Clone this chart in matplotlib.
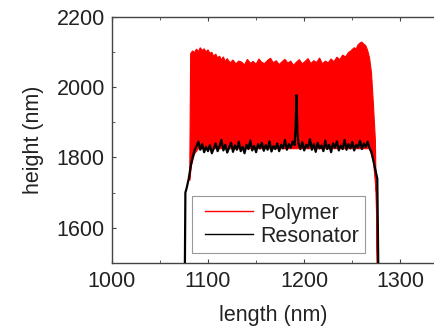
import matplotlib
matplotlib.use("Agg")
import matplotlib.pyplot as plt
from matplotlib.lines import Line2D
from matplotlib.legend_handler import HandlerLine2D
from matplotlib.ticker import MultipleLocator

plt.rcParams['font.family'] = ['Liberation Sans', 'DejaVu Sans']

# Resonator profile (length nm, height nm)
res_x = [1076, 1076.5, 1078, 1080, 1082, 1084, 1086,
         1088, 1090, 1092, 1094, 1096, 1098, 1100, 1102, 1104, 1106, 1108, 1110,
         1112, 1114, 1116, 1118, 1120, 1122, 1124, 1126, 1128, 1130, 1132, 1134,
         1136, 1138, 1140, 1142, 1144, 1146, 1148, 1150, 1152, 1154, 1156, 1158,
         1160, 1162, 1164, 1166, 1168, 1170, 1172, 1174, 1176, 1178, 1180, 1182,
         1184, 1186, 1188, 1190, 1191, 1192, 1193, 1194, 1196, 1198, 1200, 1202,
         1204, 1206, 1208, 1210, 1212, 1214, 1216, 1218, 1220, 1222, 1224, 1226,
         1228, 1230, 1232, 1234, 1236, 1238, 1240, 1242, 1244, 1246, 1248, 1250,
         1252, 1254, 1256, 1258, 1260, 1262, 1264, 1266, 1268,
         1270, 1272, 1274, 1276, 1277]
res_y = [1500, 1700, 1715, 1740, 1775, 1800, 1820,
         1832, 1845, 1822, 1838, 1815, 1830, 1818, 1835, 1812, 1826, 1840, 1818,
         1832, 1850, 1820, 1836, 1814, 1828, 1842, 1816, 1834, 1822, 1845, 1818,
         1830, 1812, 1836, 1824, 1848, 1820, 1833, 1815, 1838, 1826, 1842, 1819,
         1835, 1822, 1846, 1817, 1832, 1824, 1840, 1818, 1836, 1826, 1850, 1822,
         1838, 1828, 1845, 1835, 1880, 1977, 1870, 1840, 1824, 1844, 1820, 1836,
         1828, 1852, 1822, 1838, 1816, 1842, 1826, 1834, 1818, 1848, 1824, 1836,
         1815, 1840, 1828, 1846, 1820, 1834, 1824, 1850, 1822, 1838, 1826, 1844,
         1820, 1836, 1828, 1848, 1824, 1840, 1830, 1845, 1826,
         1815, 1790, 1765, 1740, 1500]

# Polymer: densely oscillating signal, drawn as its upper / lower envelopes
poly_up_x = [1081, 1082, 1084, 1086, 1088, 1090, 1092, 1094, 1096, 1098, 1100,
             1102, 1104, 1106, 1108, 1110, 1112, 1114, 1116, 1118, 1120, 1123,
             1126, 1129, 1132, 1135, 1138, 1141, 1144, 1147, 1150, 1153, 1156,
             1159, 1162, 1165, 1168, 1171, 1174, 1177, 1180, 1183, 1186, 1189,
             1192, 1195, 1198, 1201, 1204, 1207, 1210, 1213, 1216, 1219, 1222,
             1225, 1228, 1231, 1234, 1237, 1240, 1243, 1246, 1249, 1252, 1254,
             1256, 1258, 1260, 1262, 1264, 1266, 1268, 1270, 1272, 1274, 1276]
poly_up_y = [1740, 2095, 2103, 2098, 2108, 2101, 2112, 2104, 2109, 2100, 2106,
             2096, 2099, 2087, 2094, 2083, 2088, 2078, 2086, 2073, 2081, 2069,
             2077, 2066, 2074, 2071, 2063, 2079, 2068, 2073, 2065, 2080, 2070,
             2067, 2076, 2082, 2069, 2075, 2064, 2072, 2079, 2068, 2074, 2062,
             2071, 2078, 2066, 2073, 2081, 2067, 2075, 2070, 2083, 2066, 2074,
             2069, 2080, 2072, 2085, 2078, 2091, 2086, 2098, 2104, 2112, 2108,
             2120, 2125, 2128, 2122, 2118, 2104, 2082, 2040, 1950, 1850, 1500]
poly_lo_x = [1081, 1083, 1086, 1090, 1268, 1272, 1275, 1276]
poly_lo_y = [1735, 1780, 1810, 1825, 1825, 1790, 1700, 1500]

xlim = (1000, 1336)
ylim = (1500, 2200)
xticks = [1000, 1100, 1200, 1300]
yticks = [1600, 1800, 2000, 2200]
labels = ['Polymer', 'Resonator']

fig = plt.figure(figsize=(4.35, 3.28), dpi=100)
ax = fig.add_axes([0.257, 0.198, 0.743, 0.751])

poly_x = poly_up_x + poly_lo_x[::-1]
poly_y = poly_up_y + poly_lo_y[::-1]
ax.fill(poly_x, poly_y, color='#ff0000', lw=0.8, ec='#ff0000', zorder=2)
ax.plot(res_x, res_y, color='black', lw=1.6, zorder=3)

ax.set_xlim(*xlim)
ax.set_ylim(*ylim)
ax.set_xticks(xticks)
ax.set_yticks(yticks)
ax.xaxis.set_minor_locator(MultipleLocator(50))
ax.yaxis.set_minor_locator(MultipleLocator(100))
ax.tick_params(which='both', direction='in', top=True, right=False,
               labelsize=15.5, colors='#444', labelcolor='#222')
ax.tick_params(axis='x', pad=6)
ax.tick_params(axis='y', pad=5)
ax.tick_params(which='major', length=3)
ax.tick_params(which='minor', length=2)
for s in ['left', 'bottom', 'top']:
    ax.spines[s].set_color('#444')
    ax.spines[s].set_linewidth(1.0)
ax.spines['right'].set_visible(False)

ax.set_xlabel('length (nm)', fontsize=15.5, color='#222', labelpad=9)
ax.set_ylabel('height (nm)', fontsize=15.5, color='#222', labelpad=9)

handles = [Line2D([], [], color='#ff0000', lw=1),
           Line2D([], [], color='black', lw=1)]
hmap = {h: HandlerLine2D(xpad=0.3) for h in handles}
leg = ax.legend(handles, labels, loc='lower left', bbox_to_anchor=(0.247, 0.04),
                borderaxespad=0, fontsize=15.5, fancybox=False, framealpha=1,
                edgecolor='#999', handlelength=2.55, handletextpad=0.33,
                borderpad=0.3, labelspacing=0.1, handler_map=hmap)
leg.get_frame().set_linewidth(0.8)
for t in leg.get_texts():
    t.set_color('#222')

fig.savefig('out.png', dpi=100)
